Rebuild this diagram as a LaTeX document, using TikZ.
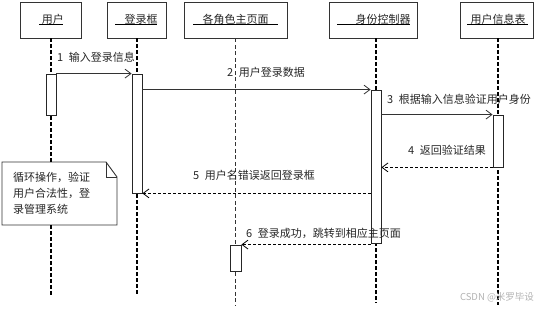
\documentclass[tikz,border=0pt]{standalone}
\usepackage{fontspec}
\setmainfont{Noto Sans CJK SC}
\usetikzlibrary{arrows.meta}
\begin{document}
\begin{tikzpicture}[x=1pt,y=-1pt,
  every node/.style={text=black!85},
  head/.style={draw=black!80,line width=0.9pt,minimum height=36pt,inner sep=0pt,font=\fontsize{11}{13}\selectfont},
  headul/.style={draw=black,line width=1.5pt},
  act/.style={draw=black!85,line width=0.8pt,fill=white,minimum width=10pt,inner sep=0pt},
  life/.style={line width=1.6pt,dash pattern=on 4pt off 2pt,black},
  lifethin/.style={line width=0.7pt,dash pattern=on 4pt off 2.5pt,black!80},
  msg/.style={draw=black!80,line width=0.8pt,-{Straight Barb[length=6pt,width=9pt]}},
  ret/.style={black,line width=1.3pt,dash pattern=on 3pt off 2pt,-{Straight Barb[length=6pt,width=9pt,line width=0.8pt]}},
  lbl/.style={anchor=west,inner sep=0pt,font=\fontsize{11}{13}\selectfont},
  notebox/.style={draw=black!80,line width=0.9pt}]
\useasboundingbox (0,0) rectangle (539,310);

% heads
\node[head,minimum width=61pt] (h1) at (50.5,20) {\raisebox{2pt}{\hspace{5pt}用户}};
\node[head,minimum width=59pt] (h2) at (136.5,20) {\raisebox{2pt}{\hspace{9pt}登录框}};
\node[head,minimum width=103pt] (h3) at (235.5,20) {\raisebox{2pt}{各角色主页面}};
\node[head,minimum width=88pt] (h4) at (373,20) {\raisebox{2pt}{\hspace{20pt}身份控制器}};
\node[head,minimum width=73pt] (h5) at (496.5,20) {\raisebox{2pt}{\hspace{3pt}用户信息表}};
\draw[headul] (39,24.5) -- (63,24.5);
\draw[headul] (115,24.5) -- (157,24.5);
\draw[headul] (193,24.5) -- (278,24.5);
\draw[headul] (337,24.5) -- (410,24.5);
\draw[headul] (467,24.5) -- (528,24.5);

% end points of lifelines
\coordinate (e1) at (51,295);
\coordinate (e2) at (137,295);
\coordinate (e3) at (235.5,306);
\coordinate (e4) at (376,303);
\coordinate (e5) at (498,305);

% note
\coordinate (ntop) at (51,162);
\coordinate (nbot) at (51,225);
\draw[notebox,fill=white] (2,162) -- (106,162) -- (117,177) -- (117,225) -- (2,225) -- cycle;
\draw[notebox] (106,162) -- (106,177) -- (117,177);
\node[lbl] (n1) at (13,177) {循环操作，验证};
\node[lbl] (n2) at (13,193) {用户合法性，登};
\node[lbl] (n3) at (13,209) {录管理系统};

% lifelines
\draw[life] (h1.south -| e1) -- (ntop);
\draw[life] (nbot) -- (e1);
\draw[life] (h2.south -| e2) -- (e2);
\draw[lifethin] (h3.south -| e3) -- (e3);
\draw[life] (h4.south -| e4) -- (e4);
\draw[life] (h5.south -| e5) -- (e5);

% activations
\node[act,minimum height=41pt] (a1) at (51,94.5) {};
\node[act,minimum height=119pt] (a2) at (137,133.5) {};
\node[act,minimum height=153pt] (a3) at (376,166.5) {};
\node[act,minimum height=52pt] (a4) at (498,141) {};
\node[act,minimum height=26pt,minimum width=11pt] (a5) at (235.5,258) {};

% messages
\draw[msg] (a1.north east) -- (a2.north west);
\draw[msg] (a2.east |- a3.north) -- (a3.north west);
\draw[msg] (a3.east |- a4.north) -- (a4.north west);
\draw[ret] (a4.south west) -- (a3.east |- a4.south);
\draw[ret] (a3.west |- a2.south) -- (a2.south east);
\draw[ret] (a3.west |- a5.north) -- (a5.north east);

% labels
\node[lbl] (l1) at (57,57) {1\hspace{3pt} 输入登录信息};
\node[lbl] (l2) at (227,72) {2\hspace{3pt} 用户登录数据};
\node[lbl] (l3) at (387,99) {3\hspace{3pt} 根据输入信息验证用户身份};
\node[lbl] (l4) at (408,150) {4\hspace{3pt} 返回验证结果};
\node[lbl] (l5) at (193,175) {5\hspace{3pt} 用户名错误返回登录框};
\node[lbl] (l6) at (246,233) {6\hspace{3pt} 登录成功，跳转到相应主页面};

% watermark
\node[inner sep=0pt,font=\fontsize{9.5}{11}\selectfont,text=black!30] (wm) at (497,297) {CSDN @米罗毕设};
\end{tikzpicture}
\end{document}
